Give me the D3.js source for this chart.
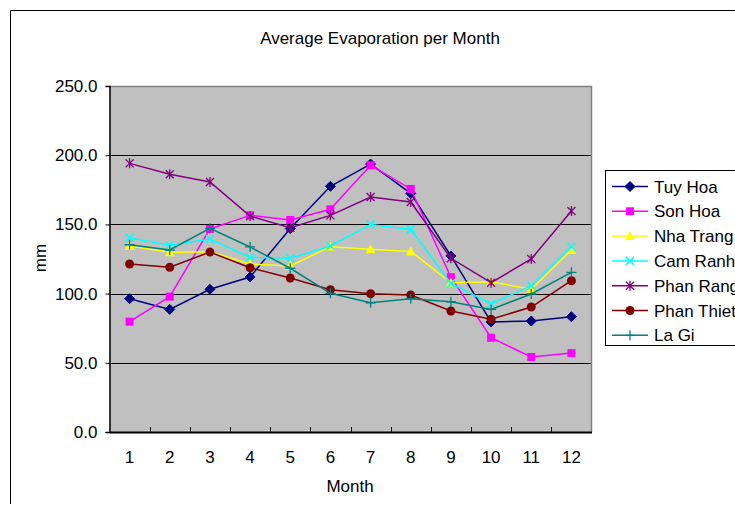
<!DOCTYPE html>
<html><head><meta charset="utf-8">
<script src="https://cdn.jsdelivr.net/npm/d3@7"></script>
<style>
body{margin:0;background:#fff;}
svg text{font-family:"Liberation Sans",Arial,sans-serif;fill:#000;}
</style></head>
<body><svg id="c" width="735" height="505"></svg>
<script>
const months = [1,2,3,4,5,6,7,8,9,10,11,12];
const yTicks = [0,50,100,150,200,250];
const seriesNames = ["Tuy Hoa","Son Hoa","Nha Trang","Cam Ranh","Phan Rang","Phan Thiet","La Gi"];
const tuyHoa    = [96.3,88.6,103.1,112.0,147.0,177.5,193.6,172.4,127.2,79.5,80.2,83.3];
const sonHoa    = [79.7,97.8,146.7,156.5,153.2,160.9,192.7,175.6,111.8,68.1,54.2,57.0];
const nhaTrang  = [134.4,129.8,130.3,121.4,120.0,133.9,132.0,130.5,107.9,108.6,103.1,131.5];
const camRanh   = [140.4,134.9,139.4,126.2,125.5,134.4,150.0,146.4,107.4,92.5,105.7,133.9];
const phanRang  = [194.1,186.2,180.6,156.0,147.6,156.5,169.8,166.2,125.5,107.9,125.0,159.7];
const phanThiet = [121.4,119.0,130.0,118.7,111.3,102.8,99.9,99.0,87.4,81.4,90.3,109.3];
const laGi      = [135.3,131.5,147.2,133.7,118.3,100.2,93.4,96.3,94.1,88.6,99.7,115.4];
const colors    = ["#000080","#ff00ff","#ffff00","#00ffff","#800080","#800000","#008080"];
const markers   = ["diamond","square","triangle","x","star","circle","plus"];
const allValues = [tuyHoa,sonHoa,nhaTrang,camRanh,phanRang,phanThiet,laGi];

const FONT = '"Liberation Sans",Arial,sans-serif';
const svg = d3.select("#c");
const L=109.5, R=591.5, T=86, B=432;

// outer frame
svg.append("path").attr("d","M10.5,504 V10.5 H735").attr("fill","none").attr("stroke","#000").attr("stroke-width",1);

svg.append("text").attr("x",380).attr("y",44).attr("text-anchor","middle").attr("font-size",17).text("Average Evaporation per Month");

const x = d3.scaleBand().domain(months).range([L,R]).padding(0);
const y = d3.scaleLinear().domain([0,250]).range([B,T]);

svg.append("rect").attr("x",L).attr("y",T).attr("width",R-L).attr("height",B-T).attr("fill","#c0c0c0");
// gridlines
svg.append("g").selectAll("line").data(yTicks.filter(v=>v>0&&v<250)).join("line")
  .attr("x1",L).attr("x2",R).attr("y1",d=>Math.round(y(d))+0.5).attr("y2",d=>Math.round(y(d))+0.5)
  .attr("stroke","#000").attr("stroke-width",1);
// top/right border gray
svg.append("path").attr("d",`M${L},${T+0.5} H${R} V${B}`).attr("fill","none").attr("stroke","#808080").attr("stroke-width",1.5);

// y axis
const yAxis = d3.axisLeft(y).tickValues(yTicks).tickFormat(d3.format(".1f")).tickSize(4).tickPadding(8);
const gy = svg.append("g").attr("transform",`translate(${L},0)`).call(yAxis);
gy.select(".domain").attr("stroke","#000").attr("stroke-width",1.5);
gy.selectAll("text").attr("font-size",17).style("font-family",FONT);

// x axis
const xAxis = d3.axisBottom(x).tickSize(0).tickPadding(19);
const gx = svg.append("g").attr("transform",`translate(0,${B})`).call(xAxis);
gx.select(".domain").attr("stroke","#000").attr("stroke-width",2);
gx.selectAll("text").attr("font-size",17).style("font-family",FONT);
// category boundary ticks pointing up
const bounds = months.slice(1).map(m=>x(m));
svg.append("g").selectAll("line").data(bounds).join("line")
  .attr("x1",d=>Math.round(d)+0.5).attr("x2",d=>Math.round(d)+0.5).attr("y1",B).attr("y2",B-5)
  .attr("stroke","#000").attr("stroke-width",1);

svg.append("text").attr("x",350).attr("y",492).attr("text-anchor","middle").attr("font-size",17).text("Month");
svg.append("text").attr("transform","translate(46,258) rotate(-90)").attr("text-anchor","middle").attr("font-size",17).text("mm");

function drawMarker(g, type, cx, cy, color){
  if(type==="diamond"){
    g.append("path").attr("d",`M${cx},${cy-5} L${cx+5},${cy} L${cx},${cy+5} L${cx-5},${cy} Z`).attr("fill",color).attr("stroke",color);
  } else if(type==="square"){
    g.append("rect").attr("x",cx-4).attr("y",cy-4).attr("width",8).attr("height",8).attr("fill",color);
  } else if(type==="triangle"){
    g.append("path").attr("d",`M${cx},${cy-5} L${cx+5},${cy+4} L${cx-5},${cy+4} Z`).attr("fill",color);
  } else if(type==="x"){
    g.append("path").attr("d",`M${cx-4},${cy-4} L${cx+4},${cy+4} M${cx-4},${cy+4} L${cx+4},${cy-4}`).attr("stroke",color).attr("stroke-width",1.5);
  } else if(type==="star"){
    g.append("path").attr("d",`M${cx-4},${cy-4} L${cx+4},${cy+4} M${cx-4},${cy+4} L${cx+4},${cy-4} M${cx},${cy-5} L${cx},${cy+5}`).attr("stroke",color).attr("stroke-width",1.3);
  } else if(type==="circle"){
    g.append("circle").attr("cx",cx).attr("cy",cy).attr("r",4.5).attr("fill",color);
  } else if(type==="plus"){
    g.append("path").attr("d",`M${cx-5},${cy} L${cx+5},${cy} M${cx},${cy-5} L${cx},${cy+5}`).attr("stroke",color).attr("stroke-width",1.3);
  }
}

const line = d3.line().x((d,i)=>x(months[i])+x.bandwidth()/2).y(d=>y(d));
allValues.forEach((vals,si)=>{
  const g = svg.append("g");
  g.append("path").datum(vals).attr("d",line).attr("fill","none").attr("stroke",colors[si]).attr("stroke-width",1.5);
  vals.forEach((v,i)=>drawMarker(g,markers[si],x(months[i])+x.bandwidth()/2,y(v),colors[si]));
});

// legend
const lg = svg.append("g");
lg.append("rect").attr("x",605.5).attr("y",170.5).attr("width",140).attr("height",175).attr("fill","#fff").attr("stroke","#000").attr("stroke-width",1);
seriesNames.forEach((n,i)=>{
  const cy = 186.5 + i*24.8;
  lg.append("line").attr("x1",612).attr("x2",648).attr("y1",cy).attr("y2",cy).attr("stroke",colors[i]).attr("stroke-width",1.5);
  drawMarker(lg,markers[i],630,cy,colors[i]);
  lg.append("text").attr("x",654).attr("y",cy+6).attr("font-size",17).text(n);
});
</script></body></html>
